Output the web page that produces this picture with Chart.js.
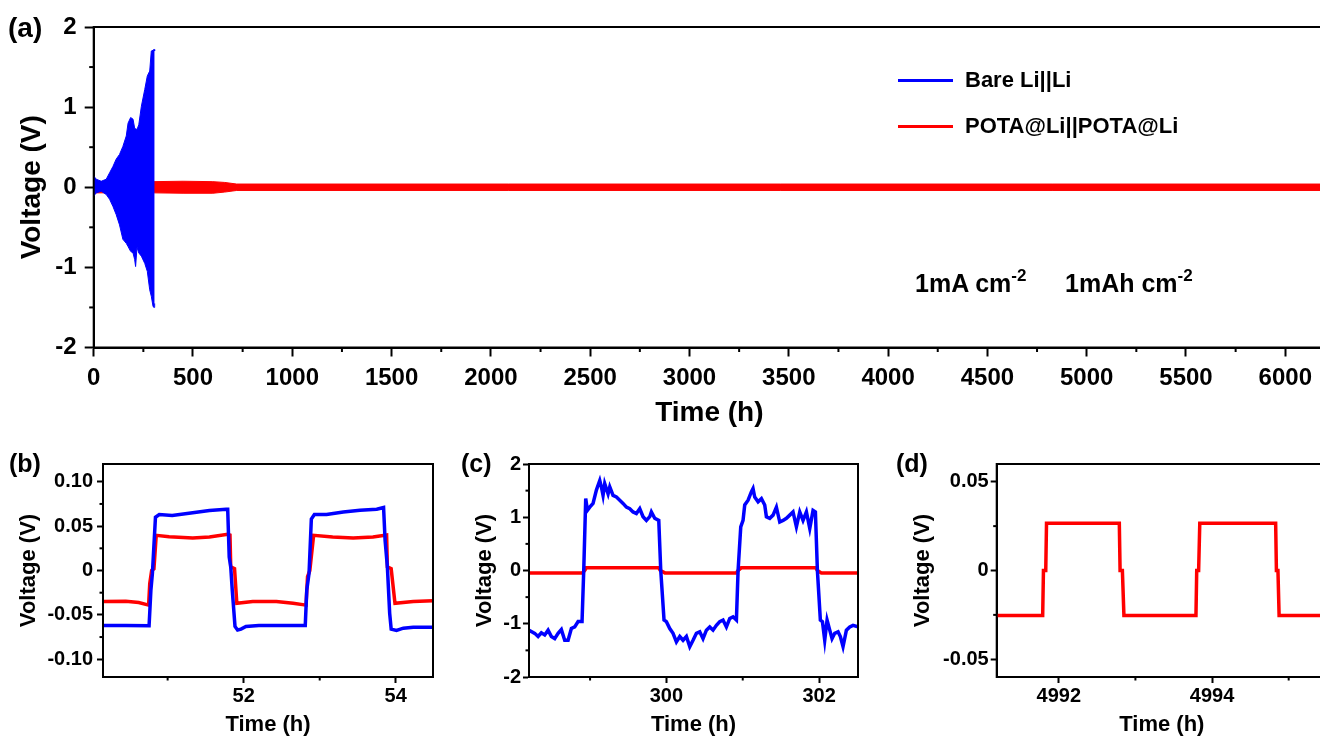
<!DOCTYPE html>
<html>
<head>
<meta charset="utf-8">
<script src="https://cdn.jsdelivr.net/npm/chart.js@4.4.0/dist/chart.umd.min.js"></script>
<style>
    html, body { margin: 0; padding: 0; background: #fff; overflow: hidden; }
    #page {
        position: relative; width: 1320px; height: 738px; overflow: hidden;
        font-family: "Liberation Sans", Arial, sans-serif; font-weight: bold; color: #000;
    }
    canvas { position: absolute; }
    .tag { position: absolute; line-height: 1; }
    #legend { position: absolute; left: 898px; top: 57px; }
    .legend-row { display: flex; align-items: center; height: 46px; font-size: 22px; }
    .legend-row span.swatch { display: inline-block; width: 55px; height: 3px; margin-right: 12px; }
    .note { position: absolute; top: 269px; font-size: 25px; line-height: 1; white-space: nowrap; }
    .note sup { font-size: 17px; position: relative; top: -2px; }
</style>
</head>
<body>
<div id="page">
    <canvas id="chartA" width="1340" height="440" style="left:0;top:0"></canvas>
    <canvas id="chartB" width="440" height="298" style="left:0;top:440px"></canvas>
    <canvas id="chartC" width="440" height="298" style="left:440px;top:440px"></canvas>
    <canvas id="chartD" width="460" height="298" style="left:880px;top:440px"></canvas>

    <div class="tag" style="left:8px;top:14px;font-size:28px">(a)</div>
    <div class="tag" style="left:9px;top:451px;font-size:25px">(b)</div>
    <div class="tag" style="left:461px;top:451px;font-size:25px">(c)</div>
    <div class="tag" style="left:896px;top:451px;font-size:25px">(d)</div>

    <div id="legend"></div>
    <div class="note" style="left:915px">1mA cm<sup>-2</sup></div>
    <div class="note" style="left:1065px">1mAh cm<sup>-2</sup></div>
</div>

<script>
// ---- data ----

// (a) long-term cycling, drawn as the upper / lower voltage envelope
const aBareTime  = [0, 13, 38, 63, 80, 97, 113, 130, 147, 164, 173, 186, 198, 206, 211, 218, 227, 240, 257, 270, 282, 290, 299, 304, 307];
const aBareUpper = [0.14, 0.10, 0.075, 0.10, 0.18, 0.26, 0.35, 0.41, 0.51, 0.64, 0.80, 0.87, 0.85, 0.74, 0.73, 0.72, 0.78, 1.01, 1.22, 1.39, 1.45, 1.70, 1.71, 1.72, 1.70];
const aBareLower = [-0.11, -0.07, -0.05, -0.09, -0.15, -0.24, -0.34, -0.47, -0.65, -0.70, -0.74, -0.80, -0.82, -0.90, -0.99, -0.75, -0.82, -0.86, -0.95, -1.05, -1.28, -1.36, -1.49, -1.50, -1.45];

const aPotaTime  = [0, 300, 450, 600, 660, 720, 6200];
const aPotaUpper = [0.07, 0.07, 0.075, 0.07, 0.06, 0.04, 0.04];
const aPotaLower = [-0.07, -0.07, -0.075, -0.075, -0.06, -0.04, -0.04];

// (b) 50 - 54.5 h
const bBareTime = [50.14, 50.45, 50.756, 50.78, 50.80, 50.84, 50.89, 51.06, 51.33, 51.55,
                   51.77, 51.79, 51.81, 51.83, 51.85, 51.886, 51.92, 51.965, 52.03, 52.2,
                   52.65, 52.81, 52.83, 52.86, 52.89, 52.93, 53.09, 53.31, 53.53, 53.75,
                   53.84, 53.86, 53.89, 53.92, 53.94, 54.01, 54.1, 54.23, 54.49];
const bBareVolt = [-0.062, -0.062, -0.0623, -0.022, -0.003, 0.060, 0.063, 0.062, 0.065, 0.0675,
                   0.069, 0.069, 0.015, 0.004, -0.022, -0.063, -0.067, -0.066, -0.063, -0.062,
                   -0.062, -0.062, -0.022, -0.003, 0.058, 0.063, 0.063, 0.066, 0.068, 0.069,
                   0.071, 0.034, 0.004, -0.048, -0.066, -0.0675, -0.065, -0.064, -0.064];
const bPotaTime = [50.14, 50.45, 50.62, 50.75, 50.765, 50.79, 50.82, 50.85, 51.02, 51.33,
                   51.55, 51.79, 51.82, 51.83, 51.88, 51.91, 52.12, 52.43, 52.65, 52.82,
                   52.84, 52.87, 52.92, 53.17, 53.44, 53.7, 53.88, 53.89, 53.94, 53.99,
                   54.23, 54.49];
const bPotaVolt = [-0.035, -0.0347, -0.036, -0.039, -0.0146, 0, 0.002, 0.0396, 0.038, 0.0366,
                   0.0377, 0.0407, 0.04, 0.004, 0.002, -0.037, -0.035, -0.035, -0.037, -0.039,
                   -0.007, 0, 0.0396, 0.0377, 0.0366, 0.0377, 0.04, 0.004, 0.002, -0.037,
                   -0.035, -0.034];

// (c) 298 - 302.5 h
const cBareTime = [298.196, 298.275, 298.319, 298.362, 298.406, 298.45, 298.493, 298.537, 298.581, 298.624,
                   298.668, 298.712, 298.755, 298.799, 298.843, 298.895, 298.917, 298.943, 298.965, 298.996,
                   299.039, 299.083, 299.127, 299.148, 299.17, 299.192, 299.236, 299.258, 299.301, 299.345,
                   299.389, 299.432, 299.476, 299.52, 299.563, 299.607, 299.651, 299.694, 299.738, 299.782,
                   299.803, 299.847, 299.9, 299.926, 299.969, 300, 300.044, 300.087, 300.131, 300.175,
                   300.218, 300.262, 300.306, 300.349, 300.393, 300.437, 300.48, 300.524, 300.568, 300.611,
                   300.655, 300.699, 300.742, 300.786, 300.83, 300.873, 300.917, 300.939, 300.974, 301.004,
                   301.026, 301.07, 301.114, 301.135, 301.157, 301.201, 301.245, 301.288, 301.31, 301.354,
                   301.397, 301.441, 301.485, 301.528, 301.572, 301.616, 301.659, 301.703, 301.747, 301.79,
                   301.834, 301.878, 301.921, 301.952, 301.978, 302.017, 302.044, 302.074, 302.105, 302.14,
                   302.17, 302.205, 302.249, 302.279, 302.314, 302.358, 302.402, 302.445, 302.511];
const cBareVolt = [-1.12, -1.18, -1.24, -1.17, -1.21, -1.12, -1.24, -1.28, -1.18, -1.11,
                   -1.31, -1.31, -1.09, -1.06, -0.96, -0.96, 0, 1.35, 1.13, 1.19,
                   1.26, 1.51, 1.69, 1.57, 1.41, 1.63, 1.44, 1.57, 1.41, 1.38,
                   1.32, 1.26, 1.19, 1.16, 1.10, 1.07, 1.16, 1.01, 0.94, 1.01,
                   1.10, 0.98, 0.94, 0, -0.93, -0.96, -1.09, -1.18, -1.34, -1.24,
                   -1.31, -1.24, -1.43, -1.31, -1.18, -1.15, -1.28, -1.12, -1.06, -1.12,
                   -1.03, -0.96, -0.93, -1.06, -0.90, -0.87, -0.93, 0, 0.82, 0.94,
                   1.23, 1.32, 1.48, 1.54, 1.38, 1.29, 1.35, 1.23, 1.01, 0.98,
                   1.04, 1.19, 0.91, 0.94, 0.98, 1.04, 1.10, 0.82, 1.10, 0.94,
                   1.10, 0.79, 1.13, 1.10, 0, -0.93, -0.96, -1.31, -0.93, -1.12,
                   -1.28, -1.18, -1.15, -1.24, -1.43, -1.12, -1.06, -1.03, -1.06];
const cPotaTime = [298.196, 298.9, 298.93, 298.95, 299.9, 299.92, 299.98, 300.917, 300.94, 300.98, 301.956, 301.978, 302.03, 302.511];
const cPotaVolt = [-0.045, -0.045, 0, 0.05, 0.05, 0, -0.045, -0.045, 0, 0.05, 0.05, 0, -0.045, -0.045];

// (d) 4991 - 4995.5 h
const dPotaTime = [4991.186, 4991.79, 4991.80, 4991.83, 4991.84, 4992.79, 4992.80, 4992.83, 4992.85,
                   4993.79, 4993.80, 4993.825, 4993.84, 4994.83, 4994.84, 4994.86, 4994.875, 4995.5];
const dPotaVolt = [-0.0253, -0.0253, 0, 0, 0.0266, 0.0266, 0, 0, -0.0253,
                   -0.0253, 0, 0, 0.0266, 0.0266, 0, 0, -0.0253, -0.0253];

// tick labels
const aTimeTicks = [0, 500, 1000, 1500, 2000, 2500, 3000, 3500, 4000, 4500, 5000, 5500, 6000];
const aVoltTicks = [-2, -1, 0, 1, 2];
const bTimeTicks = [52, 54];
const bVoltTicks = [-0.10, -0.05, 0, 0.05, 0.10];
const cTimeTicks = [300, 302];
const cVoltTicks = [-2, -1, 0, 1, 2];
const dTimeTicks = [4992, 4994];
const dVoltTicks = [-0.05, 0, 0.05];

const BLUE = '#0000ff';
const RED = '#ff0000';

Chart.defaults.font.family = '"Liberation Sans", Arial, sans-serif';
Chart.defaults.font.weight = 'bold';
Chart.defaults.color = '#000';

const pts = (xs, ys) => xs.map((x, i) => ({ x, y: ys[i] }));
const fmtInt = v => String(v);
const fmt2 = v => (Math.abs(v) < 1e-9 ? '0' : v.toFixed(2));

// box around the plot area
const frame = {
    id: 'frame',
    afterDatasetsDraw(chart, args, opts) {
        const { ctx, chartArea: a } = chart;
        ctx.save();
        ctx.strokeStyle = '#000';
        ctx.lineWidth = opts.width;
        ctx.strokeRect(a.left, a.top, a.right - a.left, a.bottom - a.top);
        ctx.restore();
    }
};

// short ticks half way between the labelled ones
const minorTicks = {
    id: 'minorTicks',
    afterDraw(chart, args, opts) {
        const { ctx, chartArea: a } = chart;
        ctx.save();
        ctx.strokeStyle = '#000';
        ctx.lineWidth = opts.width;
        ['x', 'y'].forEach(id => {
            const s = chart.scales[id];
            const vals = s.ticks.map(t => t.value);
            if (vals.length < 2) return;
            const step = vals[1] - vals[0];
            const mids = [vals[0] - step / 2].concat(vals.map(v => v + step / 2));
            mids.filter(v => v > s.min && v < s.max).forEach(v => {
                const p = s.getPixelForValue(v);
                ctx.beginPath();
                if (id === 'x') {
                    ctx.moveTo(p, a.bottom);
                    ctx.lineTo(p, a.bottom + opts.length);
                } else {
                    ctx.moveTo(a.left, p);
                    ctx.lineTo(a.left - opts.length, p);
                }
                ctx.stroke();
            });
        });
        ctx.restore();
    }
};

function axis(isX, ax, st) {
    return {
        type: 'linear',
        min: ax.min,
        max: ax.max,
        afterBuildTicks: sc => { sc.ticks = ax.ticks.map(v => ({ value: v })); },
        afterFit: sc => {
            if (isX) sc.height = st.xHeight;
            else sc.width = st.yWidth;
        },
        ticks: {
            font: { size: st.tickSize, weight: 'bold' },
            color: '#000',
            padding: isX ? st.xTickPad : st.yTickPad,
            autoSkip: false,
            maxRotation: 0,
            callback: ax.fmt
        },
        grid: {
            drawOnChartArea: false,
            drawTicks: true,
            tickLength: st.tickLen,
            tickWidth: st.line,
            tickColor: '#000'
        },
        border: { display: true, color: '#000', width: st.line },
        title: {
            display: true,
            text: ax.title,
            color: '#000',
            font: { size: st.titleSize, weight: 'bold' },
            padding: isX ? { top: 0, bottom: st.xTitlePad } : { top: st.yTitlePad, bottom: 0 }
        }
    };
}

function makePanel(id, datasets, xAx, yAx, st) {
    return new Chart(document.getElementById(id), {
        type: 'line',
        data: { datasets },
        options: {
            responsive: false,
            animation: false,
            events: [],
            layout: { padding: { left: 0, top: st.padTop, right: st.padRight, bottom: 0 } },
            elements: { point: { radius: 0 }, line: { tension: 0 } },
            scales: { x: axis(true, xAx, st), y: axis(false, yAx, st) },
            plugins: {
                legend: { display: false },
                tooltip: { enabled: false },
                frame: { width: st.line },
                minorTicks: { length: st.minorLen, width: st.line }
            }
        },
        plugins: [frame, minorTicks]
    });
}

const bigStyle = {
    padTop: 27, padRight: 15, yWidth: 93.7, xHeight: 92.5,
    tickSize: 24, titleSize: 28, tickLen: 9, minorLen: 4.5, line: 2,
    xTickPad: 7, yTickPad: 8, xTitlePad: 10, yTitlePad: 15
};
const smallStyle = (yWidth, padRight, yTickPad, yTitlePad) => ({
    padTop: 24, padRight, yWidth, xHeight: 61,
    tickSize: 20, titleSize: 22, tickLen: 6, minorLen: 3.5, line: 2,
    xTickPad: 1, yTickPad, xTitlePad: 0, yTitlePad
});

const chartA = makePanel('chartA', [
    { label: 'Bare Li||Li', data: pts(aBareTime, aBareUpper), borderColor: BLUE, backgroundColor: BLUE, borderWidth: 1, fill: '+1' },
    { data: pts(aBareTime, aBareLower), borderColor: BLUE, borderWidth: 1, fill: false },
    { label: 'POTA@Li||POTA@Li', data: pts(aPotaTime, aPotaUpper), borderColor: RED, backgroundColor: RED, borderWidth: 1, fill: '+1' },
    { data: pts(aPotaTime, aPotaLower), borderColor: RED, borderWidth: 1, fill: false }
],
    { min: 0, max: 6200, ticks: aTimeTicks, fmt: fmtInt, title: 'Time (h)' },
    { min: -2, max: 2, ticks: aVoltTicks, fmt: fmtInt, title: 'Voltage (V)' },
    bigStyle);

makePanel('chartB', [
    { data: pts(bBareTime, bBareVolt), borderColor: BLUE, borderWidth: 3.5 },
    { data: pts(bPotaTime, bPotaVolt), borderColor: RED, borderWidth: 3.5 }
],
    { min: 50.15, max: 54.49, ticks: bTimeTicks, fmt: fmtInt, title: 'Time (h)' },
    { min: -0.12, max: 0.12, ticks: bVoltTicks, fmt: fmt2, title: 'Voltage (V)' },
    smallStyle(103, 7, 4, 16));

makePanel('chartC', [
    { data: pts(cBareTime, cBareVolt), borderColor: BLUE, borderWidth: 3.5 },
    { data: pts(cPotaTime, cPotaVolt), borderColor: RED, borderWidth: 3.5 }
],
    { min: 298.2, max: 302.51, ticks: cTimeTicks, fmt: fmtInt, title: 'Time (h)' },
    { min: -2, max: 2, ticks: cVoltTicks, fmt: fmtInt, title: 'Voltage (V)' },
    smallStyle(89, 22, 2, 32));

makePanel('chartD', [
    { data: pts(dPotaTime, dPotaVolt), borderColor: RED, borderWidth: 3.5 }
],
    { min: 4991.19, max: 4995.5, ticks: dTimeTicks, fmt: fmtInt, title: 'Time (h)' },
    { min: -0.06, max: 0.06, ticks: dVoltTicks, fmt: fmt2, title: 'Voltage (V)' },
    smallStyle(116.7, 13, 2, 30));

// legend for panel (a), built from the labelled datasets
const legend = document.getElementById('legend');
chartA.data.datasets.filter(d => d.label).forEach(d => {
    const row = document.createElement('div');
    row.className = 'legend-row';
    const sw = document.createElement('span');
    sw.className = 'swatch';
    sw.style.background = d.borderColor;
    row.appendChild(sw);
    row.appendChild(document.createTextNode(d.label));
    legend.appendChild(row);
});
</script>
</body>
</html>
